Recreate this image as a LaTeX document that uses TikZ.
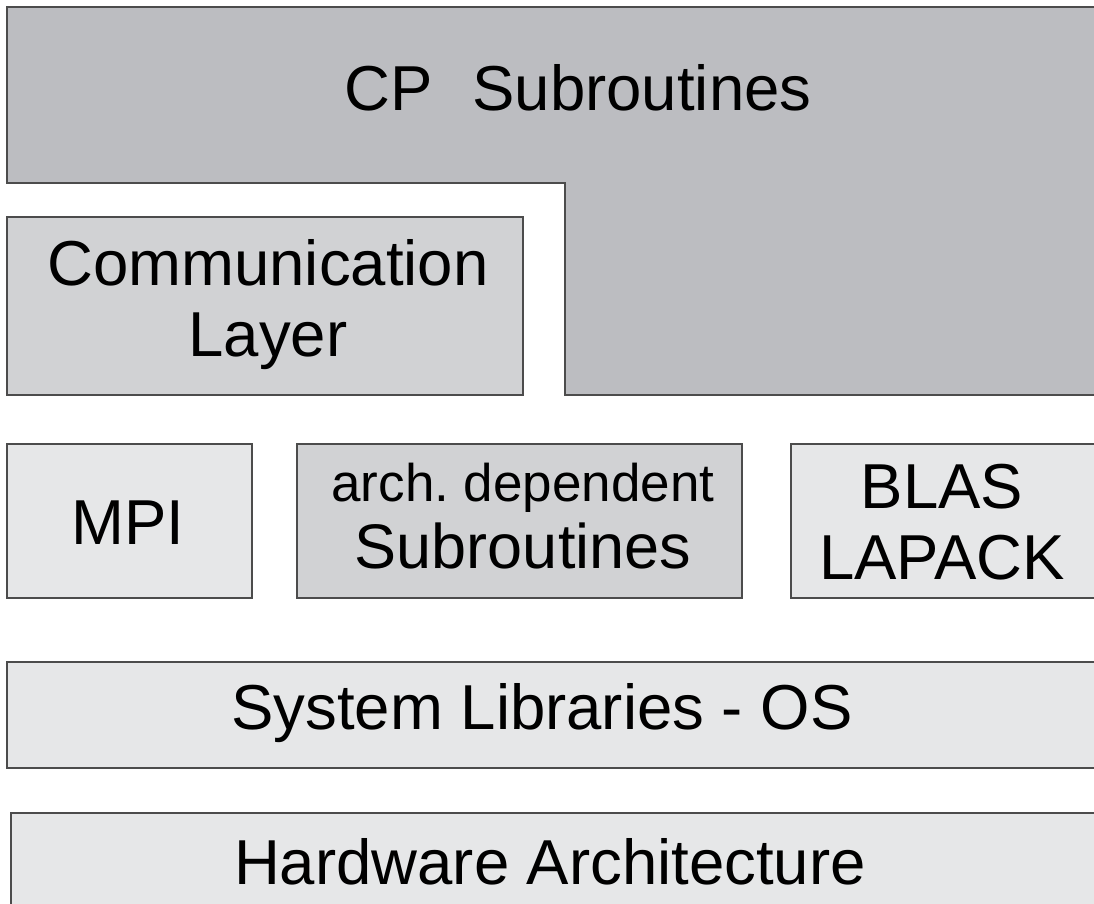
\documentclass[tikz,border=0pt]{standalone}
\usepackage{fontspec}
\setmainfont{Liberation Sans}
\definecolor{cpgray}{HTML}{BCBDC1}
\definecolor{midgray}{HTML}{D1D2D4}
\definecolor{lightgray2}{HTML}{E6E7E8}
\begin{document}
\begin{tikzpicture}[x=1pt,y=-1pt,
  layer/.style={draw=black!70,line width=1.6pt},
  lbl/.style={align=center,font=\fontsize{63.5}{71}\selectfont,inner sep=0pt}]
\useasboundingbox (0,0) rectangle (1094,904);
\begin{scope}
\clip (0,0) rectangle (1094,904);
% top layer with step
\filldraw[layer,fill=cpgray] (7,7) -- (1110,7) -- (1110,395) -- (565,395) -- (565,183) -- (7,183) -- cycle;
\filldraw[layer,fill=midgray] (7,217) rectangle (523,395);
\filldraw[layer,fill=lightgray2] (7,444) rectangle (252,598);
\filldraw[layer,fill=midgray] (297,444) rectangle (742,598);
\filldraw[layer,fill=lightgray2] (791,444) rectangle (1110,598);
\filldraw[layer,fill=lightgray2] (7,662) rectangle (1110,768);
\filldraw[layer,fill=lightgray2] (11,813) rectangle (1110,920);
\end{scope}
\node[lbl] (cp) at (578,88) {CP\hspace{0.35em} Subroutines};
\node[lbl] (comm) at (268,305) {Communication\\Layer};
\node[lbl] (mpi) at (128,523) {MPI};
\node[lbl,font=\fontsize{53}{67}\selectfont] (arch) at (523,516) {arch.\ dependent\\\fontsize{63}{67}\selectfont Subroutines};
\node[lbl] (blas) at (942,522) {BLAS\\LAPACK};
\node[lbl] (sys) at (542,713) {System Libraries - OS};
\node[lbl] (hw) at (550,862) {Hardware Architecture};
\end{tikzpicture}
\end{document}
